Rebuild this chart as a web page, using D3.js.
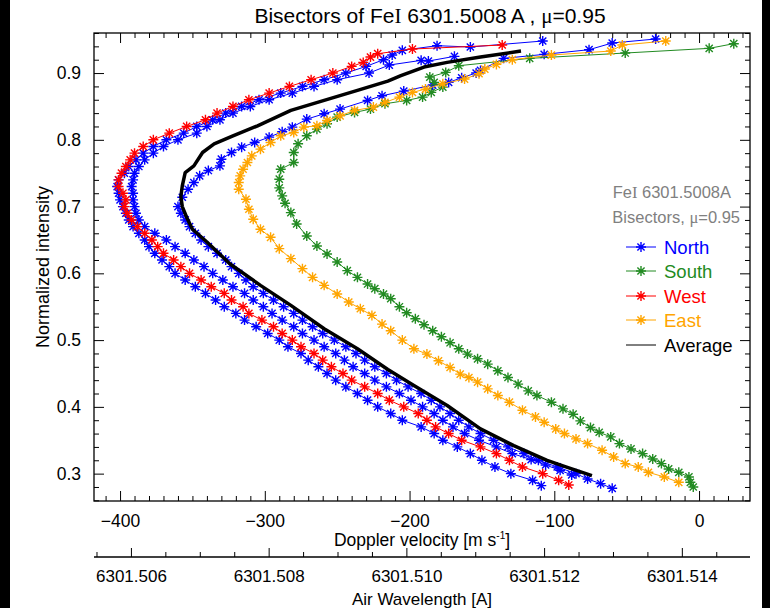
<!DOCTYPE html>
<html><head><meta charset="utf-8">
<script src="https://cdn.jsdelivr.net/npm/d3@7"></script>
<style>
body{margin:0;background:#fff}
svg{display:block}
text{font-family:"Liberation Sans",Arial,Helvetica,sans-serif}
</style>
</head><body>
<svg id="chart" width="770" height="608"></svg>
<script>
// ---------- data ----------
const velocityDomain = [-418, 35.2];
const intensityDomain = [0.259, 0.96];
const velocityTicks = [-400, -300, -200, -100, 0];
const intensityTicks = [0.3, 0.4, 0.5, 0.6, 0.7, 0.8, 0.9];
const wavelengthTicks = [6301.506, 6301.508, 6301.510, 6301.512, 6301.514];
const lambdaRef = 6301.51425;          // wavelength of zero velocity
const cLight = 299792458;              // m/s
const legendNames = ["North", "South", "West", "East", "Average"];
const legendColors = ["#0000ff", "#228b22", "#ff0000", "#ffa500", "#000000"];

// [velocity (m/s), normalized intensity]
const north1 = [[-109,0.282],[-115,0.29],[-130,0.30],[-141,0.31],[-150,0.32],[-158,0.33],[-167,0.34],[-177,0.35],[-183,0.36],[-192,0.37],[-205,0.38],[-213,0.39],[-222,0.40],[-229,0.41],[-236,0.42],[-244,0.43],[-251,0.44],[-257,0.45],[-263,0.46],[-270,0.47],[-275,0.48],[-284,0.49],[-290,0.50],[-298,0.51],[-306,0.52],[-314,0.53],[-320,0.54],[-328,0.55],[-334,0.56],[-341,0.57],[-348,0.58],[-355,0.59],[-362,0.60],[-366,0.61],[-371,0.62],[-376,0.63],[-380,0.64],[-383,0.65],[-387,0.66],[-391,0.67],[-394,0.68],[-396,0.69],[-398,0.70],[-400,0.71],[-401,0.72],[-402,0.73],[-401,0.74],[-397,0.75],[-394,0.76],[-389,0.77],[-384,0.78],[-377,0.79],[-368,0.80],[-356,0.81],[-347,0.82],[-336,0.83],[-327,0.84],[-316,0.85],[-304,0.86],[-289,0.87],[-274,0.88],[-259,0.89],[-244,0.90],[-230,0.91],[-218,0.92],[-212,0.927],[-205,0.934],[-181,0.941],[-158,0.939],[-108,0.948]];
const north2 = [[-88,0.298],[-96,0.305],[-106,0.313],[-116,0.321],[-129,0.33],[-140,0.34],[-152,0.35],[-162,0.36],[-170,0.37],[-177,0.38],[-183,0.39],[-191,0.40],[-199,0.41],[-207,0.42],[-216,0.43],[-224,0.44],[-231,0.45],[-239,0.46],[-245,0.47],[-251,0.48],[-259,0.49],[-266,0.50],[-274,0.51],[-280,0.52],[-288,0.53],[-295,0.54],[-301,0.55],[-308,0.56],[-314,0.57],[-322,0.58],[-329,0.59],[-336,0.60],[-342,0.61],[-349,0.62],[-355,0.63],[-362,0.64],[-368,0.65],[-376,0.66],[-383,0.67],[-387,0.68],[-389,0.69],[-390,0.70],[-391,0.71],[-391,0.72],[-392,0.73],[-391,0.74],[-390,0.75],[-387,0.76],[-383,0.77],[-377,0.78],[-370,0.79],[-360,0.80],[-347,0.81],[-340,0.82],[-331,0.83],[-322,0.84],[-310,0.85],[-297,0.86],[-281,0.87],[-266,0.88],[-250,0.89],[-228,0.90],[-214,0.912],[-192,0.919],[-187,0.918],[-169,0.925]];
const north3 = [[-60,0.278],[-68,0.285],[-77,0.292],[-85,0.30],[-98,0.31],[-111,0.32],[-121,0.33],[-132,0.34],[-142,0.35],[-151,0.36],[-159,0.37],[-166,0.38],[-172,0.39],[-179,0.40],[-185,0.41],[-192,0.42],[-201,0.43],[-209,0.44],[-216,0.45],[-224,0.46],[-231,0.47],[-237,0.48],[-244,0.49],[-252,0.50],[-260,0.51],[-267,0.52],[-274,0.53],[-280,0.54],[-287,0.55],[-294,0.56],[-301,0.57],[-308,0.58],[-313,0.59],[-318,0.60],[-323,0.61],[-327,0.62],[-333,0.63],[-339,0.64],[-344,0.65],[-348,0.66],[-352,0.67],[-355,0.68],[-358,0.69],[-360,0.70],[-357,0.714],[-353,0.726],[-349,0.736],[-345,0.746],[-339,0.754],[-331,0.761],[-330,0.771],[-323,0.781],[-316,0.789],[-307,0.796],[-297,0.804],[-288,0.812],[-281,0.819],[-271,0.831],[-259,0.839],[-248,0.846],[-229,0.859],[-219,0.866],[-204,0.873],[-184,0.882],[-173,0.886],[-164,0.893],[-154,0.900],[-151,0.904],[-135,0.922],[-107,0.928],[-76,0.935],[-60,0.945],[-30,0.951]];
const south = [[-4,0.280],[-6,0.287],[-7,0.295],[-14,0.302],[-21,0.307],[-26,0.315],[-32,0.322],[-39,0.330],[-47,0.337],[-55,0.345],[-61,0.355],[-69,0.362],[-75,0.369],[-82,0.379],[-87,0.389],[-94,0.397],[-102,0.407],[-112,0.417],[-118,0.424],[-125,0.434],[-132,0.444],[-139,0.454],[-146,0.464],[-153,0.472],[-160,0.479],[-166,0.487],[-172,0.496],[-178,0.505],[-184,0.514],[-190,0.523],[-196,0.532],[-202,0.541],[-207,0.550],[-213,0.562],[-218,0.569],[-224,0.577],[-229,0.584],[-236,0.594],[-243,0.604],[-250,0.617],[-257,0.629],[-264,0.641],[-271,0.656],[-278,0.674],[-282,0.691],[-286,0.705],[-288,0.716],[-290,0.728],[-290,0.741],[-289,0.756],[-280,0.766],[-280,0.781],[-277,0.794],[-271,0.806],[-264,0.816],[-257,0.824],[-250,0.834],[-238,0.841],[-227,0.846],[-217,0.854],[-202,0.859],[-191,0.864],[-185,0.871],[-177,0.879],[-183,0.886],[-186,0.894],[-175,0.901],[-166,0.911],[-117,0.922],[-51,0.930],[7,0.937],[24,0.944]];
const west = [[-90,0.283],[-97,0.29],[-108,0.30],[-122,0.31],[-131,0.32],[-140,0.33],[-151,0.34],[-164,0.35],[-173,0.36],[-182,0.37],[-188,0.38],[-194,0.39],[-204,0.40],[-214,0.41],[-222,0.42],[-231,0.43],[-240,0.44],[-246,0.45],[-254,0.46],[-260,0.47],[-266,0.48],[-275,0.49],[-281,0.50],[-288,0.51],[-294,0.52],[-302,0.53],[-311,0.54],[-315,0.55],[-323,0.56],[-328,0.57],[-337,0.58],[-344,0.59],[-352,0.60],[-358,0.61],[-363,0.62],[-370,0.63],[-374,0.64],[-378,0.65],[-383,0.66],[-388,0.67],[-392,0.68],[-395,0.69],[-397,0.70],[-396,0.71],[-398,0.72],[-401,0.73],[-401,0.74],[-399,0.75],[-396,0.76],[-393,0.77],[-390,0.78],[-384,0.79],[-377,0.80],[-366,0.81],[-354,0.82],[-341,0.83],[-333,0.84],[-322,0.85],[-311,0.86],[-297,0.87],[-283,0.88],[-268,0.89],[-253,0.90],[-240,0.91],[-232,0.916],[-227,0.924],[-222,0.929],[-198,0.936],[-136,0.942]];
const east = [[-14,0.287],[-24,0.295],[-35,0.302],[-42,0.310],[-51,0.315],[-59,0.325],[-67,0.335],[-77,0.345],[-85,0.352],[-93,0.360],[-99,0.367],[-107,0.377],[-113,0.385],[-122,0.395],[-131,0.407],[-139,0.417],[-146,0.427],[-153,0.437],[-159,0.444],[-165,0.449],[-172,0.459],[-180,0.469],[-188,0.479],[-197,0.487],[-205,0.500],[-213,0.514],[-219,0.524],[-226,0.537],[-234,0.547],[-242,0.557],[-250,0.569],[-259,0.582],[-267,0.594],[-274,0.607],[-282,0.622],[-290,0.637],[-296,0.654],[-303,0.666],[-308,0.681],[-311,0.696],[-313,0.711],[-318,0.726],[-318,0.736],[-317,0.746],[-315,0.756],[-312,0.766],[-309,0.776],[-303,0.786],[-296,0.796],[-289,0.806],[-280,0.811],[-273,0.819],[-264,0.821],[-257,0.829],[-248,0.836],[-238,0.844],[-225,0.849],[-217,0.856],[-207,0.864],[-198,0.871],[-189,0.876],[-177,0.884],[-162,0.891],[-152,0.899],[-148,0.906],[-140,0.913],[-129,0.920],[-102,0.927],[-61,0.933],[-53,0.942],[-23,0.948]];
const average = [[-74,0.297],[-92,0.31],[-105,0.32],[-128,0.342],[-151,0.367],[-174,0.402],[-197,0.432],[-215,0.456],[-236,0.487],[-259,0.517],[-282,0.552],[-303,0.582],[-324,0.614],[-340,0.647],[-350,0.666],[-354,0.684],[-357,0.70],[-358,0.715],[-357,0.731],[-355,0.751],[-349,0.761],[-343,0.781],[-335,0.794],[-322,0.806],[-305,0.821],[-282,0.844],[-259,0.859],[-236,0.874],[-215,0.888],[-206,0.896],[-190,0.909],[-174,0.916],[-151,0.924],[-123,0.933]];

// ---------- layout ----------
const svg = d3.select("#chart");
const L = 94, R = 750, T = 33, B = 501;
const x = d3.scaleLinear().domain(velocityDomain).range([L, R]);
const y = d3.scaleLinear().domain(intensityDomain).range([B, T]);
const toLambda = v => lambdaRef * (1 + v / cLight);
const xw = d3.scaleLinear().domain(velocityDomain.map(toLambda)).range([L, R]);

svg.append("rect").attr("width", 770).attr("height", 608).attr("fill", "#fff");
svg.append("rect").attr("x", 0).attr("y", 0).attr("width", 10).attr("height", 608).attr("fill", "#000");
svg.append("rect").attr("x", 762).attr("y", 0).attr("width", 8).attr("height", 608).attr("fill", "#000");

const g = svg.append("g");
const FS = 17.5;

function minor(a, b, step) { const out = []; const n = Math.round((b - a) / step); for (let i = 0; i <= n; i++) out.push(+(a + i * step).toFixed(6)); return out; }
const xMinor = minor(-410, 30, 10).filter(v => !velocityTicks.includes(v));
const yMinor = minor(0.26, 0.96, 0.02).filter(v => !intensityTicks.some(t => Math.abs(t - v) < 1e-6));

const axB = d3.axisBottom(x).tickValues(velocityTicks).tickSize(-10).tickPadding(14).tickFormat(d => d === 0 ? "0" : d3.format("")(d).replace("-", "\u2212"));
const axT = d3.axisTop(x).tickValues(velocityTicks).tickSize(-10).tickFormat("");
const axL = d3.axisLeft(y).tickValues(intensityTicks).tickSize(-10).tickPadding(13).tickFormat(d3.format(".1f"));
const axR = d3.axisRight(y).tickValues(intensityTicks).tickSize(-10).tickFormat("");
const mB = d3.axisBottom(x).tickValues(xMinor).tickSize(-5).tickFormat("");
const mT = d3.axisTop(x).tickValues(xMinor).tickSize(-5).tickFormat("");
const mL = d3.axisLeft(y).tickValues(yMinor).tickSize(-5).tickFormat("");
const mR = d3.axisRight(y).tickValues(yMinor).tickSize(-5).tickFormat("");

function put(axis, tr, fs) {
  const a = g.append("g").attr("transform", tr).call(axis);
  a.select(".domain").remove();
  a.selectAll("line").attr("stroke", "#000").attr("stroke-width", 1);
  a.selectAll("text").attr("font-size", fs || FS).attr("fill", "#000").attr("font-family", '"Liberation Sans",Arial,sans-serif');
  return a;
}
put(axB, `translate(0,${B})`); put(mB, `translate(0,${B})`);
put(axT, `translate(0,${T})`); put(mT, `translate(0,${T})`);
put(axL, `translate(${L},0)`); put(mL, `translate(${L},0)`);
put(axR, `translate(${R},0)`); put(mR, `translate(${R},0)`);
g.append("rect").attr("x", L).attr("y", T).attr("width", R - L).attr("height", B - T)
  .attr("fill", "none").attr("stroke", "#000").attr("stroke-width", 1.3);

// second (wavelength) axis
const WY = 557;
const wMinor = minor(6301.5055, 6301.5145, 0.0005).filter(v => !wavelengthTicks.some(t => Math.abs(t - v) < 1e-7));
const axW = d3.axisBottom(xw).tickValues(wavelengthTicks).tickSize(-9).tickPadding(13).tickFormat(d3.format(".3f"));
const mW = d3.axisBottom(xw).tickValues(wMinor).tickSize(-5).tickFormat("");
put(axW, `translate(0,${WY})`, 17); put(mW, `translate(0,${WY})`);
g.append("line").attr("x1", L).attr("x2", R).attr("y1", WY).attr("y2", WY).attr("stroke", "#000").attr("stroke-width", 1.3);

// axis titles
const xt = svg.append("text").attr("x", (L + R) / 2).attr("y", 546).attr("text-anchor", "middle").attr("font-size", FS);
xt.append("tspan").text("Doppler velocity [m s");
xt.append("tspan").attr("dy", -7).attr("font-size", 10).text("-1");
xt.append("tspan").attr("dy", 7).text("]");
svg.append("text").attr("x", (L + R) / 2).attr("y", 605).attr("text-anchor", "middle").attr("font-size", 17).text("Air Wavelength [A]");
svg.append("text").attr("transform", `translate(49,${(T + B) / 2}) rotate(-90)`).attr("text-anchor", "middle").attr("font-size", 18).text("Normalized intensity");

// title
const tt = svg.append("text").attr("x", 430).attr("y", 23).attr("text-anchor", "middle").attr("font-size", 21);
tt.append("tspan").text("Bisectors of Fe");
tt.append("tspan").attr("font-family", '"Liberation Serif",serif').text("I");
tt.append("tspan").text(" 6301.5008\u2009A , ");
tt.append("tspan").attr("font-family", '"Liberation Serif",serif').text("\u03bc");
tt.append("tspan").text("=0.95");

// marker path (asterisk: + and x)
const star = r => { const d = r * 0.72; return `M${-r},0H${r}M0,${-r}V${r}M${-d},${-d}L${d},${d}M${-d},${d}L${d},${-d}`; };
const line = d3.line().x(d => x(d[0])).y(d => y(d[1]));

const plotG = svg.append("g");
function series(data, color) {
  plotG.append("path").attr("d", line(data)).attr("fill", "none").attr("stroke", color).attr("stroke-width", 1);
  plotG.append("g").selectAll("path").data(data).join("path")
    .attr("transform", d => `translate(${x(d[0])},${y(d[1])})`)
    .attr("d", star(5)).attr("stroke", color).attr("stroke-width", 1.4).attr("fill", "none");
}
series(north1, legendColors[0]);
series(north2, legendColors[0]);
series(north3, legendColors[0]);
series(south, legendColors[1]);
series(west, legendColors[2]);
series(east, legendColors[3]);
plotG.append("path").attr("d", line(average)).attr("fill", "none").attr("stroke", "#000").attr("stroke-width", 3.5).attr("stroke-linejoin", "round");

// legend
const lg = svg.append("g");
const h1 = lg.append("text").attr("x", 731).attr("y", 198).attr("text-anchor", "end").attr("font-size", 16.5).attr("fill", "#808080");
h1.append("tspan").text("Fe");
h1.append("tspan").attr("font-family", '"Liberation Serif",serif').text("I");
h1.append("tspan").text(" 6301.5008A");
const h2 = lg.append("text").attr("x", 740).attr("y", 223).attr("text-anchor", "end").attr("font-size", 16.5).attr("fill", "#808080");
h2.append("tspan").text("Bisectors, ");
h2.append("tspan").attr("font-family", '"Liberation Serif",serif').text("\u03bc");
h2.append("tspan").text("=0.95");
const legY = [247, 271, 296, 320, 345];
legendNames.forEach((n, i) => {
  const yy = legY[i];
  lg.append("line").attr("x1", 626).attr("x2", 656).attr("y1", yy).attr("y2", yy).attr("stroke", legendColors[i]).attr("stroke-width", 1);
  if (i < 4) lg.append("path").attr("transform", `translate(641,${yy})`).attr("d", star(5)).attr("stroke", legendColors[i]).attr("stroke-width", 1.4).attr("fill", "none");
  lg.append("text").attr("x", 664).attr("y", yy + 6.5).attr("font-size", 18.5).attr("fill", legendColors[i]).text(n);
});
</script>
</body></html>
